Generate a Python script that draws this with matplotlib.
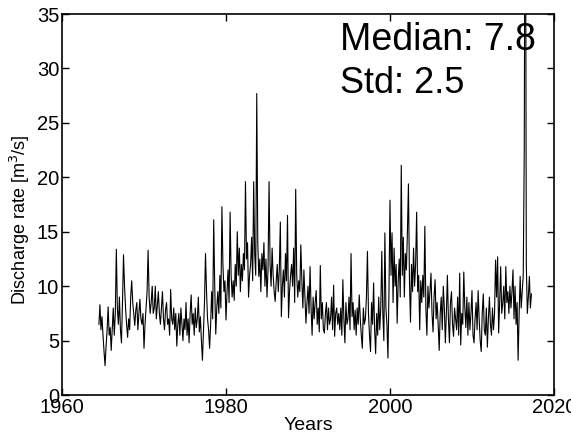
import numpy as np
import matplotlib

matplotlib.use("Agg")
import matplotlib.pyplot as plt

plt.rcParams["font.family"] = ["Liberation Sans", "DejaVu Sans"]

# discharge, 8 samples per year starting 1964.5
start_year = 1964.5
step = 0.125
discharge = [
    6.5, 8.3, 6.0, 7.2,                        # 1964 (second half)
    5.5, 4.0, 2.7, 4.5, 6.0, 8.1, 5.5, 6.2,    # 1965
    4.1, 6.0, 8.0, 5.5, 7.5, 13.4, 8.0, 6.5,   # 1966
    9.0, 6.0, 4.8, 8.5, 12.9, 10.0, 8.0, 6.5,  # 1967
    5.3, 7.0, 6.0, 9.0, 10.5, 8.5, 7.5, 6.4,   # 1968
    7.8, 8.5, 6.0, 7.5, 8.8, 7.0, 6.5, 7.5,    # 1969
    4.3, 6.5, 8.0, 9.5, 13.3, 9.0, 7.5, 8.5,   # 1970
    10.0, 7.5, 8.0, 10.0, 7.0, 8.2, 9.5, 7.5,  # 1971
    6.5, 8.0, 9.5, 7.0, 6.0, 7.8, 8.5, 6.5,    # 1972
    7.0, 5.5, 9.7, 7.0, 6.5, 8.0, 6.0, 7.5,    # 1973
    4.5, 6.5, 7.5, 5.5, 8.0, 6.5, 5.0, 7.0,    # 1974
    6.0, 8.5, 5.5, 7.0, 4.8, 7.5, 9.2, 6.5,    # 1975
    7.5, 5.5, 8.0, 6.2, 7.0, 9.0, 5.8, 7.2,    # 1976
    5.0, 3.2, 6.0, 8.5, 13.0, 9.5, 7.0, 6.0,   # 1977
    4.3, 6.5, 9.5, 7.0, 16.1, 10.0, 5.6, 8.0,  # 1978
    9.5, 7.5, 11.0, 8.0, 17.3, 12.0, 9.5, 10.5,   # 1979
    6.9, 9.5, 11.5, 8.5, 16.8, 11.0, 9.0, 10.5,   # 1980
    8.7, 12.0, 10.0, 15.0, 11.0, 13.5, 9.5, 12.0, # 1981
    10.5, 13.0, 11.5, 19.6, 12.5, 14.0, 9.0, 11.0,  # 1982
    12.0, 14.5, 10.5, 19.6, 13.0, 11.0, 27.7, 14.0, # 1983
    10.9, 12.5, 9.5, 13.0, 11.5, 14.0, 10.0, 12.5,  # 1984
    9.0, 11.5, 19.6, 12.0, 10.0, 13.5, 11.0, 9.5,   # 1985
    8.6, 10.5, 12.0, 9.5, 11.5, 15.9, 7.2, 10.0,    # 1986
    11.5, 9.0, 13.0, 10.5, 16.5, 7.1, 9.5, 11.0,    # 1987
    12.0, 10.0, 13.5, 8.5, 18.9, 11.0, 9.0, 10.5,   # 1988
    9.5, 13.8, 10.5, 8.0, 11.5, 9.0, 6.6, 8.5,      # 1989
    10.0, 7.5, 11.8, 8.0, 5.5, 9.0, 7.0, 8.5,       # 1990
    9.6, 6.5, 8.0, 5.8, 11.9, 7.0, 8.5, 6.0,        # 1991
    5.7, 7.5, 8.5, 6.0, 8.0, 6.5, 7.0, 9.0,         # 1992
    6.0, 10.1, 5.4, 7.5, 8.0, 6.5, 7.5, 6.0,        # 1993
    8.0, 5.5, 10.6, 7.0, 4.8, 8.5, 6.5, 7.0,        # 1994
    9.0, 6.0, 13.0, 7.2, 8.5, 6.0, 7.8, 5.5,        # 1995
    8.0, 6.5, 9.2, 7.0, 5.5, 4.3, 8.0, 6.5,         # 1996
    7.0, 9.0, 13.2, 7.5, 5.5, 4.0, 8.5, 6.5,        # 1997
    10.3, 6.0, 3.8, 7.5, 5.5, 9.0, 6.0, 8.0,        # 1998
    13.2, 7.5, 5.0, 14.9, 8.0, 6.5, 3.4, 9.5,       # 1999
    17.9, 11.0, 14.9, 8.5, 13.5, 10.0, 12.0, 6.6,   # 2000
    10.5, 12.5, 9.0, 21.1, 11.0, 14.5, 9.0, 13.0,   # 2001
    11.5, 15.0, 19.4, 10.5, 6.7, 12.0, 9.5, 13.5,   # 2002
    10.0, 12.0, 16.8, 9.5, 11.0, 6.0, 10.5, 8.5,    # 2003
    11.0, 9.0, 15.5, 8.0, 5.5, 10.0, 8.0, 9.5,      # 2004
    11.2, 7.5, 5.8, 9.0, 10.6, 7.0, 8.5, 6.5,       # 2005
    4.1, 7.5, 9.0, 6.0, 10.0, 8.0, 4.8, 7.5,        # 2006
    11.0, 7.0, 4.8, 8.5, 9.5, 6.5, 5.4, 8.0,        # 2007
    7.0, 6.0, 9.0, 5.5, 11.2, 4.6, 7.5, 6.5,        # 2008
    11.3, 8.0, 6.2, 9.0, 5.5, 8.5, 6.0, 7.5,        # 2009
    9.6, 5.5, 4.8, 7.0, 8.5, 6.0, 9.6, 7.0,         # 2010
    5.0, 4.0, 7.5, 9.3, 6.0, 5.5, 8.0, 4.4,         # 2011
    7.0, 9.0, 6.5, 5.5, 8.0, 6.0, 7.5, 12.4,        # 2012
    9.0, 12.7, 5.7, 8.5, 11.8, 7.5, 8.4, 10.0,      # 2013
    7.0, 11.8, 8.5, 9.5, 7.5, 10.0, 8.0, 9.5,       # 2014
    11.5, 7.0, 10.0, 6.5, 8.5, 3.2, 7.5, 10.9,      # 2015
    8.0, 9.5, 11.0, 22.5, 60.0, 12.0, 7.5, 9.0,     # 2016
    10.9, 8.0, 9.3,                                 # 2017
]
years = start_year + step * np.arange(len(discharge))

median_text = "Median: 7.8"
std_text = "Std: 2.5"

fig = plt.figure(figsize=(5.71, 4.38), dpi=100)
ax = fig.add_axes([0.1086, 0.098, 0.8616, 0.870])
ax.plot(years, discharge, color="black", linewidth=0.8)

ax.set_xlim(1960, 2020)
ax.set_ylim(0, 35)
ax.set_xticks([1960, 1980, 2000, 2020])
ax.set_yticks(range(0, 36, 5))
ax.tick_params(direction="in", length=5, width=1, top=True, right=True,
               labelsize=14.5, pad=2)
for s in ax.spines.values():
    s.set_linewidth(1.2)

ax.set_xlabel("Years", fontsize=14, labelpad=0)
ax.set_ylabel("Discharge rate [m$^3$/s]", fontsize=13)
ax.yaxis.set_label_coords(-0.062, 0.46)

ax.text(1993.9, 31.7, median_text, fontsize=27)
ax.text(1993.9, 27.7, std_text, fontsize=26)

fig.savefig("out.png", dpi=100)
